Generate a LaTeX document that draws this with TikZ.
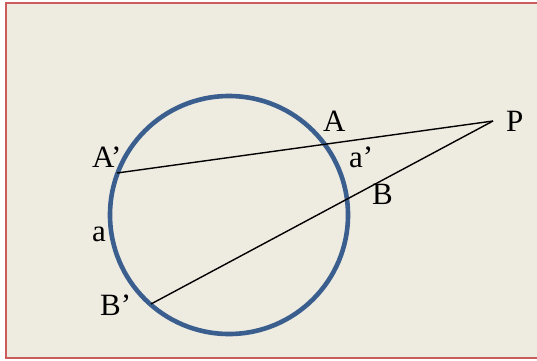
\documentclass[tikz,border=0pt]{standalone}
\usepackage{fontspec}
\setmainfont{Liberation Serif}
\definecolor{slidebg}{HTML}{EEEBE1}
\definecolor{slideframe}{HTML}{CC5B5B}
\definecolor{circleblue}{HTML}{3A5F8F}

\begin{document}
\begin{tikzpicture}[
  x=1pt,
  y=-1pt,
  every node/.style={font=\fontsize{31}{31}\selectfont, black},
  label/.style={anchor=base west, inner sep=0pt},
  frame/.style={slideframe, line width=2pt, fill=slidebg},
  circ/.style={circleblue, line width=4.6pt},
  secant/.style={black, line width=1.4pt}
]
  % ---- page, and the frame that runs off at the right ------------------
  \useasboundingbox (0,0) rectangle (537,360);
  \clip (0,0) rectangle (537,360);
  \fill[white] (0,0) rectangle (537,360);
  \draw[frame] (6.3,2.8) rectangle (560,358.4);

  % ---- the circle ------------------------------------------------------
  \coordinate (O) at (229,215);
  \draw[circ] (O) circle[radius=119pt];

  % ---- outside point and the far ends on the circle --------------------
  \coordinate (P) at (493,121);
  \coordinate (Ap) at (117,173);
  \coordinate (Bp) at (151,304);

  % ---- the two secants -------------------------------------------------
  \draw[secant] (P) -- (Ap);
  \draw[secant] (P) -- (Bp);

  % ---- labels ----------------------------------------------------------
  \node[label] (labP) at (506,131) {P};
  \node[label] (labA) at (323,131) {A};
  \node[label] (labB) at (372,204) {B};
  \node[label] (labap) at (349,167) {a’};
  \node[label] (labAp) at (92,167) {A’};
  \node[label] (laba) at (92,241) {a};
  \node[label] (labBp) at (100,315) {B’};

\end{tikzpicture}
\end{document}
